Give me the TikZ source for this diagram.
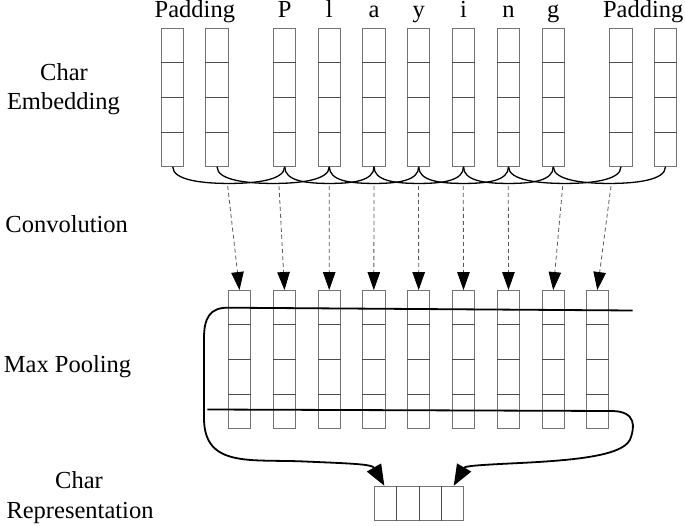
\documentclass[tikz,border=0pt]{standalone}
\usepackage{fontspec}
\setmainfont{Liberation Serif}
\usetikzlibrary{arrows.meta,calc}
\begin{document}
\begin{tikzpicture}[x=1pt,y=-1pt,
  col/.style={draw=gray!90!black, line width=0.9pt, minimum width=22.4pt, minimum height=138pt, inner sep=0pt},
  reprbox/.style={draw=gray!90!black, line width=0.9pt, minimum width=89.4pt, minimum height=34pt, inner sep=0pt},
  cell/.style={draw=gray!60!black, line width=0.9pt},
  lbl/.style={font=\fontsize{24.5}{29}\selectfont, inner sep=0pt, anchor=base},
  win/.style={draw=black, line width=1.3pt},
  dasharrow/.style={draw=gray!70!black, line width=0.8pt, dash pattern=on 4pt off 3pt, -{Triangle[length=18pt,width=12.5pt,color=black]}},
  pool/.style={draw=black, line width=1.8pt},
  poolarrow/.style={pool, -{Triangle[length=21pt,width=16pt]}}
]
\useasboundingbox (0,0) rectangle (685,526);

% embedding columns
\foreach \x [count=\i from 0] in {172.7,217,284.7,329.3,374,418.7,463.5,508.5,553.3,621,665.5}
  \node[col] (e\i) at (\x,97.3) {};
\foreach \i in {0,...,10}
  \foreach \f in {0.25,0.5,0.75}
    \draw[cell] ($(e\i.north west)!\f!(e\i.south west)$) -- ($(e\i.north east)!\f!(e\i.south east)$);

% conv columns
\foreach \x [count=\i from 0] in {239.5,284.5,329.2,373.8,418.7,463.5,508.5,553.2,597.3}
  \node[col] (c\i) at (\x,359.5) {};
\foreach \i in {0,...,8}
  \foreach \f in {0.25,0.5,0.75}
    \draw[cell] ($(c\i.north west)!\f!(c\i.south west)$) -- ($(c\i.north east)!\f!(c\i.south east)$);

% representation box
\node[reprbox] (r) at (419,503.7) {};
\foreach \f in {0.25,0.5,0.75}
  \draw[cell] ($(r.north west)!\f!(r.north east)$) -- ($(r.south west)!\f!(r.south east)$);

% top labels
\node[lbl] (tpad1) at ($(e0.north)!0.5!(e1.north)+(0,-10)$) {Padding};
\node[lbl] (tP) at ($(e2.north)+(0,-10)$) {P};
\node[lbl] (tl) at ($(e3.north)+(0,-10)$) {l};
\node[lbl] (ta) at ($(e4.north)+(0,-10)$) {a};
\node[lbl] (ty) at ($(e5.north)+(0,-10)$) {y};
\node[lbl] (ti) at ($(e6.north)+(0,-10)$) {i};
\node[lbl] (tn) at ($(e7.north)+(0,-10)$) {n};
\node[lbl] (tg) at ($(e8.north)+(0,-10)$) {g};
\node[lbl] (tpad2) at ($(e9.north)!0.5!(e10.north)+(0,-10)$) {Padding};

% side labels
\node[lbl] (l1a) at (64,80.7) {Char};
\node[lbl] (l1b) at (63.5,110) {Embedding};
\node[lbl] (l2) at (66.7,232.7) {Convolution};
\node[lbl] (l3) at (67.5,373) {Max Pooling};
\node[lbl] (l4a) at (79,488) {Char};
\node[lbl] (l4b) at (80,518) {Representation};

% convolution windows
\foreach \k in {0,...,8} {
  \pgfmathtruncatemacro\j{\k+2}
  \coordinate (m\k) at ($(e\k.south)!0.5!(e\j.south)+(0,16.7)$);
  \draw[win] (e\k.south) .. controls ($(e\k.south)+(0,14)$) and ($(m\k)+(-24,0)$) .. (m\k)
    .. controls ($(m\k)+(24,0)$) and ($(e\j.south)+(0,14)$) .. (e\j.south);
}

% dashed arrows
\foreach \x [count=\k from 0] in {227.7,279,329.3,374,418.5,463.3,508.3,562.7,611} {
  \coordinate (d\k) at (\x,186);
  \draw[dasharrow] (d\k) -- (c\k.north);
}

% max pooling lines
\coordinate (pt1) at (632.5,310.5);
\coordinate (pt2) at (207.3,409.5);
\coordinate (pl) at ($(r.north west)+(10.5,-0.5)$);
\coordinate (pr) at ($(r.north east)+(-10.4,-0.5)$);
\draw[poolarrow] (pt1) -- (228,307.7) .. controls (210,307.5) and (204,318) .. (204,338) -- (204,418)
  .. controls (204,468) and (250,459) .. (305,461.5) .. controls (350,463.5) and (372,464) .. (pl);
\draw[poolarrow] (pt2) -- (612,411) .. controls (637,411.3) and (634,428) .. (631,437)
  .. controls (627,455) and (580,460) .. (520,463) .. controls (478,465) and (465,466) .. (pr);
\end{tikzpicture}
\end{document}
